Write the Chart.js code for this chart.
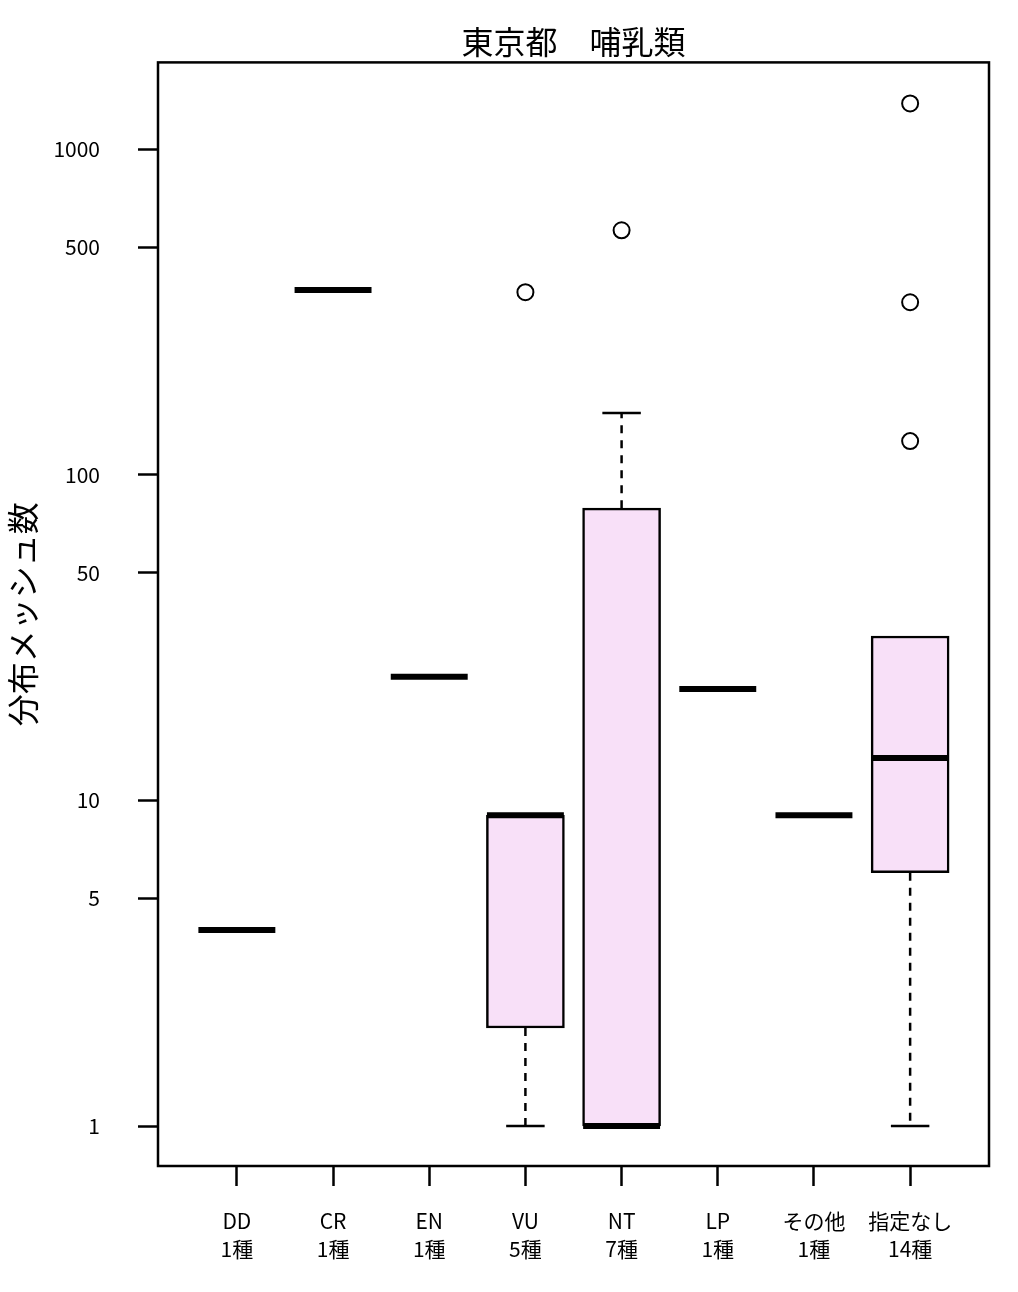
<!DOCTYPE html>
<html>
<head>
<meta charset="utf-8">
<script src="https://cdn.jsdelivr.net/npm/chart.js@4"></script>
<style>
  body { margin: 0; background: #fff; }
</style>
</head>
<body>
<canvas id="boxChart" width="1018" height="1292"></canvas>
<script>
// categories and number of species per category
const categories = ['DD', 'CR', 'EN', 'VU', 'NT', 'LP', 'その他', '指定なし'];
const speciesCounts = ['1種', '1種', '1種', '5種', '7種', '1種', '1種', '14種'];

// box plot statistics (distribution mesh counts)
const whiskerLow  = [4, 370, 24, 1, 1, 22, 9, 1];
const q1          = [4, 370, 24, 2, 1, 22, 9, 6];
const medians     = [4, 370, 24, 9, 1, 22, 9, 13.5];
const q3          = [4, 370, 24, 9, 79, 22, 9, 32];
const whiskerHigh = [4, 370, 24, 9, 155, 22, 9, 32];

// outliers
const outlierCats = ['VU', 'NT', '指定なし', '指定なし', '指定なし'];
const outlierVals = [364, 564, 127, 339, 1383];

// y axis
const yTicks = [1, 5, 10, 50, 100, 500, 1000];

const boxWidth = 0.8;     // like R boxwex
const capWidth = 0.4;     // staple width

const narrowFont = "'Liberation Sans Narrow', 'Noto Sans CJK JP', sans-serif";
const jpFont = "'Noto Sans CJK JP', sans-serif";

// horizontal segment centred on category position x
function hseg(x, y, w) {
  return [{ x: x - w / 2, y: y }, { x: x + w / 2, y: y }, { x: x + w / 2, y: null }];
}

// build datasets from the arrays
const boxData = [];
const medianData = [];
const capData = [];
const whiskerData = [];
categories.forEach((c, i) => {
  const x = i + 1;
  medianData.push(...hseg(x, medians[i], boxWidth));
  if (q3[i] > q1[i]) boxData.push({ x: x, y: [q1[i], q3[i]] });
  if (whiskerLow[i] < q1[i]) {
    whiskerData.push({ x: x, y: q1[i] }, { x: x, y: whiskerLow[i] }, { x: x, y: null });
    capData.push(...hseg(x, whiskerLow[i], capWidth));
  }
  if (whiskerHigh[i] > q3[i]) {
    whiskerData.push({ x: x, y: q3[i] }, { x: x, y: whiskerHigh[i] }, { x: x, y: null });
    capData.push(...hseg(x, whiskerHigh[i], capWidth));
  }
});
const outlierData = outlierCats.map((c, i) => ({ x: categories.indexOf(c) + 1, y: outlierVals[i] }));

// frame around the plot region
const framePlugin = {
  id: 'frame',
  afterDraw(chart) {
    const a = chart.chartArea;
    const ctx = chart.ctx;
    ctx.save();
    ctx.strokeStyle = '#000';
    ctx.lineWidth = 2.5;
    ctx.strokeRect(a.left, a.top, a.right - a.left, a.bottom - a.top);
    ctx.restore();
  }
};

const ctx = document.getElementById('boxChart').getContext('2d');
const boxChart = new Chart(ctx, {
  type: 'bar',
  data: {
    datasets: [
      {
        type: 'line',
        data: medianData,
        borderColor: '#000',
        borderWidth: 6,
        pointRadius: 0,
        spanGaps: false
      },
      {
        type: 'line',
        data: capData,
        borderColor: '#000',
        borderWidth: 2.5,
        pointRadius: 0,
        spanGaps: false
      },
      {
        type: 'line',
        data: whiskerData,
        borderColor: '#000',
        borderWidth: 2.5,
        borderDash: [8, 7],
        pointRadius: 0,
        spanGaps: false
      },
      {
        type: 'line',
        data: outlierData,
        showLine: false,
        pointStyle: 'circle',
        pointRadius: 8,
        pointBorderWidth: 2,
        pointBorderColor: '#000',
        pointBackgroundColor: '#fff'
      },
      {
        type: 'bar',
        data: boxData,
        backgroundColor: '#F8E0F8',
        borderColor: '#000',
        borderWidth: 2.5,
        borderSkipped: false,
        barThickness: 78
      }
    ]
  },
  options: {
    responsive: false,
    animation: false,
    events: [],
    layout: { padding: { left: 0, right: 29, top: 0, bottom: 0 } },
    plugins: {
      legend: { display: false },
      tooltip: { enabled: false },
      title: {
        display: true,
        text: '東京都　哺乳類',
        fullSize: false,
        color: '#000',
        font: { family: jpFont, size: 32, weight: 'normal' },
        padding: { top: 23, bottom: 1 }
      }
    },
    scales: {
      x: {
        type: 'linear',
        min: 0.18,
        max: 8.82,
        offset: false,
        afterBuildTicks: (scale) => {
          scale.ticks = categories.map((c, i) => ({ value: i + 1 }));
        },
        afterFit: (scale) => {
          scale.height = 126;
          scale.paddingLeft = 0;
          scale.paddingRight = 0;
        },
        ticks: {
          autoSkip: false,
          maxRotation: 0,
          color: '#000',
          padding: 21,
          font: { family: narrowFont, size: 21, lineHeight: 1.33 },
          callback: (v) => [categories[v - 1], speciesCounts[v - 1]]
        },
        grid: {
          offset: false,
          drawOnChartArea: false,
          drawTicks: true,
          tickLength: 20,
          tickWidth: 2.5,
          tickColor: '#000'
        },
        border: { display: false }
      },
      y: {
        type: 'logarithmic',
        min: 0.7536,
        max: 1849,
        afterBuildTicks: (scale) => {
          scale.ticks = yTicks.map(v => ({ value: v }));
        },
        afterFit: (scale) => {
          scale.width = 158;
          scale.paddingTop = 0;
          scale.paddingBottom = 0;
        },
        ticks: {
          color: '#000',
          padding: 38,
          font: { family: narrowFont, size: 21 },
          callback: (v) => String(v)
        },
        grid: {
          drawOnChartArea: false,
          drawTicks: true,
          tickLength: 20,
          tickWidth: 2.5,
          tickColor: '#000'
        },
        border: { display: false },
        title: {
          display: true,
          text: '分布メッシュ数',
          color: '#000',
          font: { family: jpFont, size: 32 },
          padding: { top: 4, bottom: 0 }
        }
      }
    }
  },
  plugins: [framePlugin]
});
</script>
</body>
</html>
